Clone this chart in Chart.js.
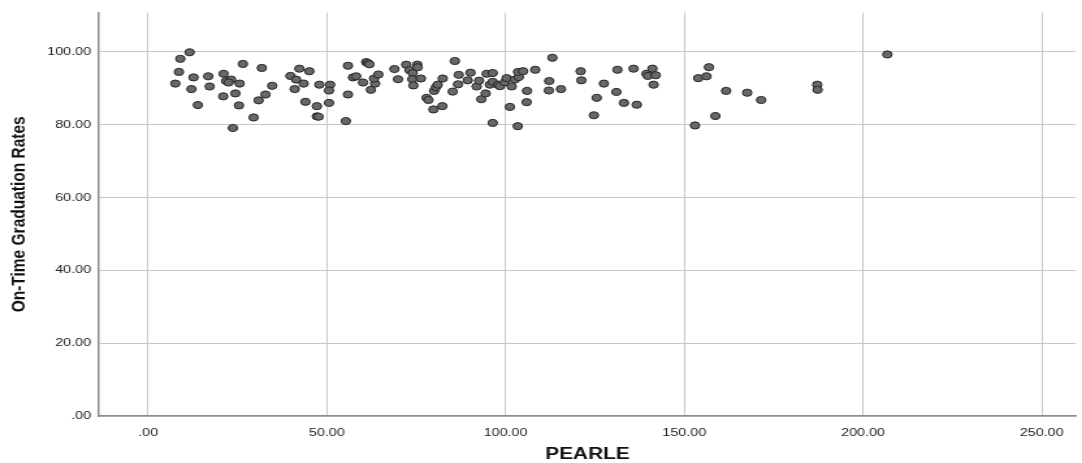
<!DOCTYPE html>
<html>
<head>
<meta charset="utf-8">
<script src="https://cdn.jsdelivr.net/npm/chart.js@4/dist/chart.umd.min.js"></script>
<style>
  html, body { margin: 0; padding: 0; background: #fff; overflow: hidden; }
  #plot { display: block; }
</style>
</head>
<body>
<!-- drawn narrow and stretched wide, like the exported SPSS graphic -->
<canvas id="plot" width="832" height="463" style="width:1082px;height:463px"></canvas>
<script>
// PEARLE score per school
const pearle = [
  7.6, 8.6, 9.0, 11.6, 12.7, 12.1, 13.9, 16.8, 17.2, 21.1,
  21.8, 23.2, 22.5, 21.0, 24.4, 25.6, 25.4, 23.7, 26.5, 31.8,
  29.5, 30.9, 32.8, 34.7, 39.8, 41.4, 42.3, 45.1, 43.5, 41.0,
  44.0, 47.9, 47.2, 47.2, 47.7, 50.9, 50.6, 50.6, 55.3, 55.9,
  55.9, 57.3, 58.2, 61.0, 61.5, 61.9, 60.1, 62.3, 63.5, 63.2,
  64.4, 68.9, 69.9, 72.2, 73.1, 74.0, 73.9, 74.2, 75.3, 75.4,
  76.3, 77.9, 78.4, 80.0, 80.5, 81.0, 82.4, 79.8, 82.3, 85.2,
  85.8, 86.7, 86.9, 89.4, 90.2, 91.9, 92.6, 93.2, 94.4, 94.7,
  96.4, 95.6, 96.4, 97.9, 96.4, 98.4, 99.8, 100.3, 101.7, 102.6,
  103.7, 103.5, 104.9, 101.2, 103.4, 106.0, 105.9, 108.3, 112.2, 112.1,
  113.1, 115.5, 121.0, 121.2, 124.7, 125.5, 127.5, 131.3, 131.0, 133.1,
  135.8, 136.7, 139.4, 139.8, 141.1, 142.0, 141.4, 153.0, 153.9, 156.2,
  156.9, 158.7, 161.7, 167.6, 171.5, 187.2, 187.3, 206.8
];

// on-time graduation rate, same order as pearle
const gradRates = [
  91.3, 94.5, 98.1, 99.9, 93.0, 89.8, 85.4, 93.3, 90.5, 94.0,
  92.0, 92.4, 91.6, 87.8, 88.6, 91.3, 85.3, 79.1, 96.7, 95.6,
  82.0, 86.7, 88.3, 90.7, 93.4, 92.4, 95.4, 94.7, 91.3, 89.8,
  86.3, 91.0, 85.1, 82.3, 82.2, 91.0, 89.4, 86.0, 81.0, 96.2,
  88.3, 93.0, 93.3, 97.2, 96.9, 96.6, 91.6, 89.6, 91.3, 92.7,
  93.8, 95.3, 92.5, 96.5, 95.0, 94.2, 92.5, 90.8, 96.5, 95.8,
  92.7, 87.4, 86.8, 89.3, 90.3, 91.0, 92.7, 84.2, 85.1, 89.1,
  97.5, 91.1, 93.7, 92.2, 94.3, 90.5, 92.1, 87.0, 88.6, 94.0,
  94.2, 91.0, 91.8, 91.0, 80.5, 90.6, 91.7, 92.8, 90.5, 92.4,
  93.1, 94.5, 94.7, 84.9, 79.6, 89.3, 86.2, 95.1, 92.0, 89.4,
  98.4, 89.8, 94.7, 92.2, 82.6, 87.4, 91.3, 95.1, 89.0, 86.0,
  95.4, 85.5, 94.0, 93.4, 95.4, 93.6, 91.0, 79.8, 92.8, 93.3,
  95.8, 82.4, 89.3, 88.8, 86.8, 91.0, 89.6, 99.3
];

const xTicks = [0, 50, 100, 150, 200, 250];
const yTicks = [0, 20, 40, 60, 80, 100];

// SPSS style labels: 0 -> ".00", 50 -> "50.00"
function fmt(v) {
  return v.toFixed(2).replace(/^0/, '');
}

const points = pearle.map((p, i) => ({ x: p, y: gradRates[i] }));

Chart.defaults.font.family = "'Liberation Sans', Arial, sans-serif";

const ctx = document.getElementById('plot').getContext('2d');
const chart = new Chart(ctx, {
  type: 'scatter',
  data: {
    datasets: [{
      data: points,
      backgroundColor: '#686868',
      borderColor: '#262626',
      borderWidth: 1,
      pointRadius: 3.6,
      pointHoverRadius: 3.6,
    }],
  },
  options: {
    responsive: false,
    animation: false,
    devicePixelRatio: 1,
    layout: {
      padding: { top: 12, right: 4, bottom: 0, left: 0 }
    },
    plugins: {
      legend: { display: false },
      tooltip: { enabled: false },
    },
    scales: {
      x: {
        type: 'linear',
        position: 'bottom',
        min: -13.8,
        max: 259.6,
        afterBuildTicks: (scale) => {
          scale.ticks = xTicks.map(v => ({ value: v }));
        },
        afterFit: (scale) => { scale.height = 47; },
        grid: { color: '#c6c6c6', lineWidth: 1, drawTicks: false },
        border: { color: '#8c8c8c', width: 1.5 },
        ticks: {
          padding: 10,
          color: '#222222',
          font: { size: 11 },
          maxRotation: 0,
          callback: (v) => fmt(v),
        },
        title: {
          display: true,
          text: 'PEARLE',
          color: '#111111',
          font: { size: 16, weight: 'bold', lineHeight: 1 },
          padding: { top: 0, bottom: 0 },
        },
      },
      y: {
        min: 0,
        max: 110.8,
        afterBuildTicks: (scale) => {
          scale.ticks = yTicks.map(v => ({ value: v }));
        },
        afterFit: (scale) => { scale.width = 76; },
        grid: { color: '#c6c6c6', lineWidth: 1, drawTicks: false },
        border: { color: '#8c8c8c', width: 1.5 },
        ticks: {
          padding: 6,
          color: '#222222',
          font: { size: 11 },
          callback: (v) => fmt(v),
        },
        title: {
          display: true,
          text: 'On-Time Graduation Rates',
          color: '#111111',
          font: { size: 15.5, weight: 'bold' },
          padding: { top: 5, bottom: 0 },
        },
      },
    },
  },
});
</script>
</body>
</html>
